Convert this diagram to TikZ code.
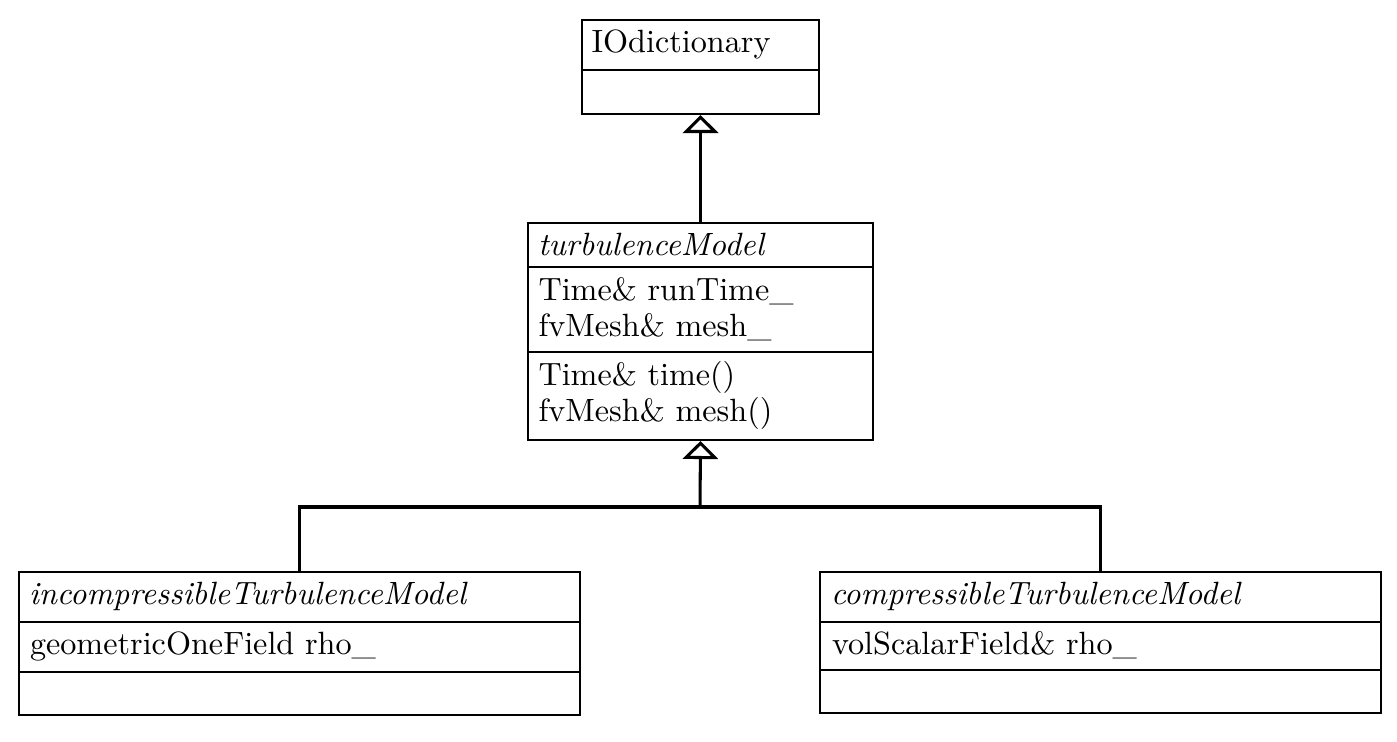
\documentclass[tikz,border=0pt]{standalone}
\usetikzlibrary{arrows.meta,fit}
\begin{document}
\begin{tikzpicture}[x=0.31056pt,y=-0.31056pt,
  box/.style={draw,line width=0.62pt,inner sep=0pt},
  sep/.style={line width=0.62pt},
  txt/.style={anchor=base west,inner sep=0pt,outer sep=0pt},
  cls/.style={txt,font=\itshape},
  conn/.style={line width=0.95pt},
  inh/.style={line width=0.95pt,-{Triangle[open,length=5.6pt,width=11pt]}}]
\useasboundingbox (0,0) rectangle (1397,741);
% boxes
\node[box,fit={(582,20) (819,114)}] (iod) {};
\node[box,fit={(528,223) (873,440)}] (turb) {};
\node[box,fit={(19,572) (580,715)}] (inc) {};
\node[box,fit={(820,572) (1381,713)}] (comp) {};
% dividers
\draw[sep] (iod.west |- 0,70) -- (iod.east |- 0,70);
\draw[sep] (turb.west |- 0,267) -- (turb.east |- 0,267);
\draw[sep] (turb.west |- 0,352) -- (turb.east |- 0,352);
\draw[sep] (inc.west |- 0,622) -- (inc.east |- 0,622);
\draw[sep] (inc.west |- 0,672) -- (inc.east |- 0,672);
\draw[sep] (comp.west |- 0,622) -- (comp.east |- 0,622);
\draw[sep] (comp.west |- 0,670) -- (comp.east |- 0,670);
% texts
\node[txt] (iodn) at (591.5,52.7) {IOdictionary};
\node[cls] (turbn) at (538,255) {turbulenceModel};
\node[txt] (ta1) at (538.5,300) {Time\& runTime\_};
\node[txt] (ta2) at (538.5,336) {fvMesh\& mesh\_};
\node[txt] (tm1) at (538.5,385) {Time\& time()};
\node[txt] (tm2) at (538.5,421) {fvMesh\& mesh()};
\node[cls] (incn) at (29,604.5) {incompressibleTurbulenceModel};
\node[txt] (inca) at (30,654) {geometricOneField rho\_};
\node[cls] (compn) at (831,604.5) {compressibleTurbulenceModel};
\node[txt] (compa) at (832,654) {volScalarField\& rho\_};
% connectors
\coordinate (j) at (700,507);
\draw[inh] (turb.north) -- (iod.south);
\draw[conn] (inc.north) |- (j) -| (comp.north);
\draw[inh] (j) -- (turb.south);
\end{tikzpicture}
\end{document}
